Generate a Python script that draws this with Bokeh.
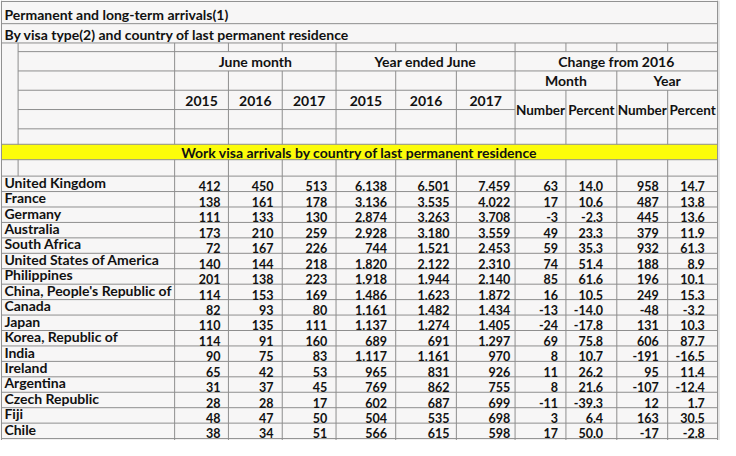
from bokeh.plotting import figure
from bokeh.models import Range1d, ColumnDataSource
from bokeh.core.properties import value
from bokeh.embed import file_html
from bokeh.resources import INLINE

# ---------------- data ----------------
title1 = "Permanent and long-term arrivals(1)"
title2 = "By visa type(2) and country of last permanent residence"
section_label = "Work visa arrivals by country of last permanent residence"
group_labels = ["June month", "Year ended June", "Change from 2016"]
sub_labels = ["Month", "Year"]
year_labels = ["2015", "2016", "2017"]
measure_labels = ["Number", "Percent"]

countries = ["United Kingdom", "France", "Germany", "Australia", "South Africa",
             "United States of America", "Philippines", "China, People's Republic of",
             "Canada", "Japan", "Korea, Republic of", "India", "Ireland", "Argentina",
             "Czech Republic", "Fiji", "Chile"]
june_2015 = [412, 138, 111, 173, 72, 140, 201, 114, 82, 110, 114, 90, 65, 31, 28, 48, 38]
june_2016 = [450, 161, 133, 210, 167, 144, 138, 153, 93, 135, 91, 75, 42, 37, 28, 47, 34]
june_2017 = [513, 178, 130, 259, 226, 218, 223, 169, 80, 111, 160, 83, 53, 45, 17, 50, 51]
ye_2015 = [6138, 3136, 2874, 2928, 744, 1820, 1918, 1486, 1161, 1137, 689, 1117, 965, 769, 602, 504, 566]
ye_2016 = [6501, 3535, 3263, 3180, 1521, 2122, 1944, 1623, 1482, 1274, 691, 1161, 831, 862, 687, 535, 615]
ye_2017 = [7459, 4022, 3708, 3559, 2453, 2310, 2140, 1872, 1434, 1405, 1297, 970, 926, 755, 699, 698, 598]
month_change_num = [63, 17, -3, 49, 59, 74, 85, 16, -13, -24, 69, 8, 11, 8, -11, 3, 17]
month_change_pct = [14.0, 10.6, -2.3, 23.3, 35.3, 51.4, 61.6, 10.5, -14.0, -17.8, 75.8, 10.7, 26.2, 21.6, -39.3, 6.4, 50.0]
year_change_num = [958, 487, 445, 379, 932, 188, 196, 249, -48, 131, 606, -191, 95, -107, 12, 163, -17]
year_change_pct = [14.7, 13.8, 13.6, 11.9, 61.3, 8.9, 10.1, 15.3, -3.2, 10.3, 87.7, -16.5, 11.4, -12.4, 1.7, 30.5, -2.8]

# ---------------- layout (reference pixel units) ----------------
W, H = 736, 456
LEFT, RIGHT = 1, 733
SPLIT = 18
col_edges = [178, 233, 288, 343, 404, 466, 526, 578, 630, 682, 733]
ROW0, ROWH = 182, 16
GRID = "#8e8e8e"
BG = "#f7f6f6"
FONT = value("Lato")

p = figure(width=720, height=440, x_range=Range1d(0, W), y_range=Range1d(H, 0),
           output_backend="svg", toolbar_location=None, min_border=0, title=None)
p.axis.visible = False
p.grid.visible = False
p.outline_line_color = None
p.background_fill_color = BG
p.border_fill_color = BG

# right strip outside the sheet
p.quad(left=[RIGHT], right=[W], top=[0], bottom=[H], fill_color="#e9e9e9", line_color=None)

# yellow section band
p.quad(left=[LEFT], right=[RIGHT], top=[149], bottom=[165], fill_color="#fcfc0a", line_color=None)

# ---- grid segments ----
x0, y0, x1, y1 = [], [], [], []
def hl(y, a, b):
    x0.append(a); x1.append(b); y0.append(y); y1.append(y)
def vl(x, a, b):
    x0.append(x); x1.append(x); y0.append(a); y1.append(b)

for y in [1, 24, 44, 149, 165]:
    hl(y, LEFT, RIGHT)
for y in [53, 73, 93, 133]:
    hl(y, SPLIT, RIGHT)
hl(113, SPLIT, col_edges[6])
n = len(countries)
for i in range(n + 1):
    hl(ROW0 + i * ROWH, LEFT, RIGHT)

vl(LEFT, 0, H); vl(RIGHT, 0, H)
vl(SPLIT, 44, 149); vl(SPLIT, 165, ROW0)
for x in [178, 343, 526]:
    vl(x, 44, 149); vl(x, 165, H)
for x in [233, 288, 404, 466, 630]:
    vl(x, 44, 53); vl(x, 73, 149); vl(x, 165, H)
for x in [578, 682]:
    vl(x, 44, 53); vl(x, 93, 149); vl(x, 165, H)

p.segment(x0=x0, y0=y0, x1=x1, y1=y1, line_color=GRID, line_width=1)

# ---- header texts ----
hdr = dict(text_font=FONT, text_font_style="bold", text_color="#111111")
p.text(x=[4, 4], y=[15, 35], text=[title1, title2], text_align="left",
       text_baseline="middle", text_font_size="14px", **hdr)
gx = [(col_edges[0] + col_edges[3]) / 2, (col_edges[3] + col_edges[6]) / 2, (col_edges[6] + col_edges[10]) / 2]
p.text(x=gx, y=[63] * 3, text=group_labels, text_align="center", text_baseline="middle",
       text_font_size="14px", **hdr)
sx = [(col_edges[6] + col_edges[8]) / 2, (col_edges[8] + col_edges[10]) / 2]
p.text(x=sx, y=[83] * 2, text=sub_labels, text_align="center", text_baseline="middle",
       text_font_size="14px", **hdr)
yx = [(col_edges[i] + col_edges[i + 1]) / 2 for i in range(6)]
p.text(x=yx, y=[104] * 6, text=year_labels * 2, text_align="center", text_baseline="middle",
       text_font_size="14px", **hdr)
mx = [(col_edges[i] + col_edges[i + 1]) / 2 for i in range(6, 10)]
p.text(x=mx, y=[113] * 4, text=measure_labels * 2, text_align="center", text_baseline="middle",
       text_font_size="13.5px", **hdr)
p.text(x=[(LEFT + RIGHT) / 2], y=[157.5], text=[section_label], text_align="center",
       text_baseline="middle", text_font_size="14px", **hdr)

# ---- data rows ----
row_tops = [ROW0 + i * ROWH for i in range(n)]
p.text(x=[4] * n, y=[t + 6.3 for t in row_tops], text=countries, text_align="left",
       text_baseline="middle", text_font_size="14px", **hdr)

def thou(v):
    return f"{v:,}".replace(",", ".")

columns = [
    ([str(v) for v in june_2015], 8),
    ([str(v) for v in june_2016], 9),
    ([str(v) for v in june_2017], 9),
    ([thou(v) for v in ye_2015], 9),
    ([thou(v) for v in ye_2016], 7),
    ([thou(v) for v in ye_2017], 5),
    ([str(v) for v in month_change_num], 8),
    ([f"{v:.1f}" for v in month_change_pct], 14),
    ([str(v) for v in year_change_num], 9),
    ([f"{v:.1f}" for v in year_change_pct], 13),
]
nx, ny, nt = [], [], []
for ci, (vals, pad) in enumerate(columns):
    for ri, s in enumerate(vals):
        nx.append(col_edges[ci + 1] - pad)
        ny.append(row_tops[ri] + 10.7)
        nt.append(s)
src = ColumnDataSource(dict(x=nx, y=ny, t=nt))
p.text(x="x", y="y", text="t", source=src, text_align="right", text_baseline="middle",
       text_font_size="12.5px", **hdr)

open("out.html", "w").write(file_html(p, INLINE))
